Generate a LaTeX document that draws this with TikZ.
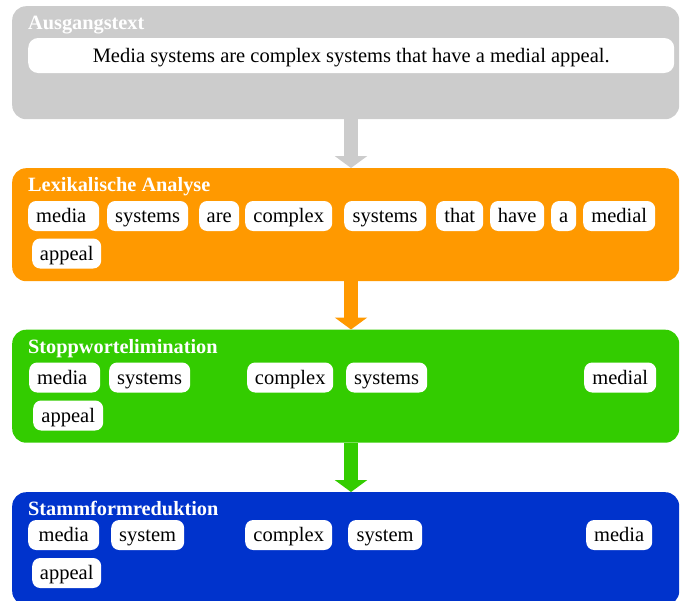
\documentclass[tikz,border=0pt]{standalone}
\usepackage{fontspec}
\setmainfont{Liberation Serif}
\usetikzlibrary{arrows.meta}
\definecolor{cgray}{HTML}{CCCCCC}
\definecolor{corange}{HTML}{FF9900}
\definecolor{cgreen}{HTML}{33CC00}
\definecolor{cblue}{HTML}{0033CC}
\tikzset{
  panel/.style={draw=none, rounded corners=14pt, anchor=north west, minimum width=667pt, minimum height=113pt, inner sep=0pt},
  ptitle/.style={anchor=base west, inner sep=0pt, text=white, font=\fontsize{20.3}{24}\selectfont\bfseries},
  word/.style={fill=white, rounded corners=8pt, anchor=west, inner xsep=4pt, inner ysep=0pt,
    minimum height=30pt, text height=14pt, text depth=1pt, font=\fontsize{20.5}{24}\selectfont},
  wordl/.style={word, text width=55pt, align=left, inner xsep=8pt},
  flow/.style={line width=14pt, -{Triangle[width=32pt,length=12pt]}},
}
\begin{document}
\begin{tikzpicture}[x=1pt,y=-1pt]
\useasboundingbox (0,0) rectangle (680,600);
\clip (0,0) rectangle (680,600);
% panels
\node[panel, fill=cgray] (p1) at (12,6) {};
\node[panel, fill=corange] (p2) at (12,168) {};
\node[panel, fill=cgreen] (p3) at (12,329.5) {};
\node[panel, fill=cblue] (p4) at (12,492) {};
\coordinate (ax) at (351,0);
% arrows
\draw[flow, draw=cgray, fill=cgray] (p1.south -| ax) -- (p2.north -| ax);
\draw[flow, draw=corange, fill=corange] (p2.south -| ax) -- (p3.north -| ax);
\draw[flow, draw=cgreen, fill=cgreen] (p3.south -| ax) -- (p4.north -| ax);
% titles
\node[ptitle] (t1) at (28,29) {Ausgangstext};
\node[ptitle] (t2) at (28,191) {Lexikalische Analyse};
\node[ptitle] (t3) at (28,353) {Stoppwortelimination};
\node[ptitle] (t4) at (28,515) {Stammformreduktion};
% source sentence
\node[word, minimum width=646pt, minimum height=35pt, rounded corners=10pt] (s) at (28,55.5) {Media systems are complex systems that have a medial appeal.};
% Lexikalische Analyse
\node[wordl] (a1) at (28,216) {media};
\node[word, minimum width=81pt] (a2) at (107,216) {systems};
\node[word, minimum width=40pt] (a3) at (199,216) {are};
\node[word, minimum width=87pt] (a4) at (245,216) {complex};
\node[word, minimum width=82pt] (a5) at (344,216) {systems};
\node[word, minimum width=47pt] (a6) at (436,216) {that};
\node[word, minimum width=54pt] (a7) at (490,216) {have};
\node[word, minimum width=25pt] (a8) at (551,216) {a};
\node[word, minimum width=72pt] (a9) at (583,216) {medial};
\node[word, minimum width=69pt] (a10) at (32,253.5) {appeal};
% Stoppwortelimination
\node[wordl] (b1) at (29,377.5) {media};
\node[word, minimum width=81pt] (b2) at (109,377.5) {systems};
\node[word, minimum width=86pt] (b3) at (247,377.5) {complex};
\node[word, minimum width=81pt] (b4) at (346,377.5) {systems};
\node[word, minimum width=72pt] (b5) at (584,377.5) {medial};
\node[word, minimum width=70pt] (b6) at (33,415.5) {appeal};
% Stammformreduktion
\node[word, minimum width=71pt] (c1) at (28,535) {media};
\node[word, minimum width=73pt] (c2) at (111,535) {system};
\node[word, minimum width=87pt] (c3) at (245,535) {complex};
\node[word, minimum width=74pt] (c4) at (348,535) {system};
\node[word, minimum width=66pt] (c5) at (586,535) {media};
\node[word, minimum width=69pt] (c6) at (32,573) {appeal};
\end{tikzpicture}
\end{document}
